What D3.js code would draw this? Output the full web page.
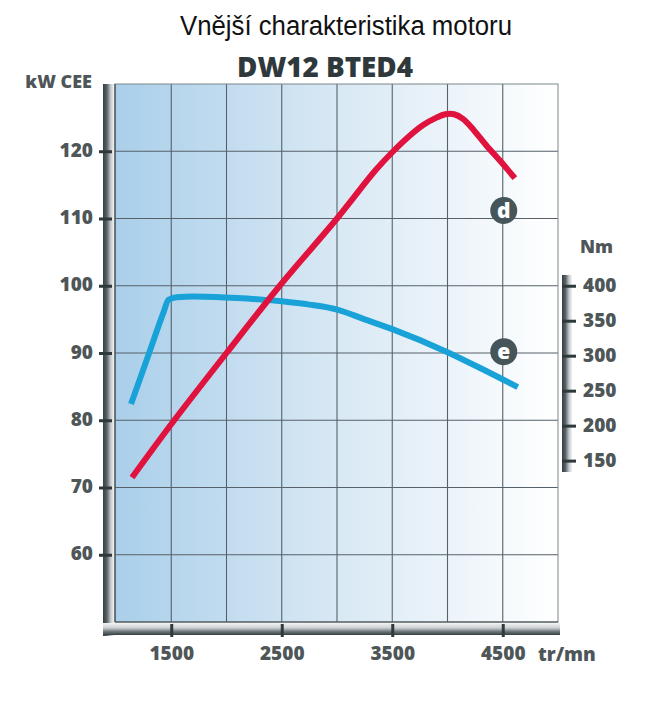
<!DOCTYPE html>
<html>
<head>
<meta charset="utf-8">
<script src="https://cdn.jsdelivr.net/npm/d3@7"></script>
<style>
  html, body { margin: 0; padding: 0; background: #ffffff; }
  svg { display: block; }
</style>
</head>
<body>
<svg id="chart" width="662" height="712"></svg>
<script>
// ---- data ----
const title = "Vnější charakteristika motoru";
const subtitle = "DW12 BTED4";
const xTicks = [1500, 2500, 3500, 4500];
const xGrid = [1500, 2000, 2500, 3000, 3500, 4000, 4500];
const kwTicks = [60, 70, 80, 90, 100, 110, 120];
const nmTicks = [150, 200, 250, 300, 350, 400];
// power curve (rpm, kW)
const powerRpm = [1145, 1527, 2000, 2482, 3000, 3350, 3509, 3650, 3780, 3900, 3980, 4060, 4140, 4240, 4350, 4480, 4610];
const powerKw  = [71.5, 80, 90, 100, 110, 117.2, 120, 122.2, 123.9, 125.0, 125.5, 125.5, 124.8, 123.1, 120.9, 118.5, 116.0];
// torque curve (rpm, Nm)
const torqueRpm = [1136, 1300, 1430, 1475, 1550, 1700, 1900, 2100, 2500, 2750, 3000, 3250, 3500, 4000, 4300, 4636];
const torqueNm  = [231, 304, 362, 380, 383.5, 384.5, 384, 382.5, 377.7, 373, 366, 352, 338, 305, 282, 255];
const markerLabels = ["d", "e"];
const markerRpm = [4500, 4500];
const markerKw = [111.2, 90.2];

// ---- layout ----
const svg = d3.select("#chart");
const plot = { left: 115, right: 558, top: 84, bottom: 622 };
const x = d3.scaleLinear().domain([1000, 5000]).range([plot.left + 1, plot.right]);
const y = d3.scaleLinear().domain([50, 130]).range([plot.bottom, plot.top]);
const yNm = d3.scaleLinear().domain([150, 400]).range([y(74), y(100)]);

const axisColor = "#4e5658";
const fontAxis = "'Open Sans', 'DejaVu Sans', sans-serif";

const defs = svg.append("defs");
const bg = defs.append("linearGradient").attr("id", "bg").attr("x1", "0").attr("x2", "1").attr("y1", "0").attr("y2", "0");
bg.append("stop").attr("offset", "0%").attr("stop-color", "#aacfea");
bg.append("stop").attr("offset", "45%").attr("stop-color", "#d4e6f3");
bg.append("stop").attr("offset", "100%").attr("stop-color", "#ffffff");

const barV = defs.append("linearGradient").attr("id", "barV").attr("x1", "0").attr("x2", "1").attr("y1", "0").attr("y2", "0");
barV.append("stop").attr("offset", "0%").attr("stop-color", "#353e42");
barV.append("stop").attr("offset", "35%").attr("stop-color", "#596266");
barV.append("stop").attr("offset", "70%").attr("stop-color", "#c3c8ca");
barV.append("stop").attr("offset", "100%").attr("stop-color", "#f3f4f4");

const barH = defs.append("linearGradient").attr("id", "barH").attr("x1", "0").attr("x2", "0").attr("y1", "0").attr("y2", "1");
barH.append("stop").attr("offset", "0%").attr("stop-color", "#f3f4f4");
barH.append("stop").attr("offset", "40%").attr("stop-color", "#cdd1d3");
barH.append("stop").attr("offset", "72%").attr("stop-color", "#6b7477");
barH.append("stop").attr("offset", "100%").attr("stop-color", "#353e42");

// ---- titles ----
svg.append("text")
  .attr("x", 346).attr("y", 35)
  .attr("text-anchor", "middle")
  .attr("font-family", "'Liberation Sans Narrow', 'Liberation Sans', Arial, sans-serif")
  .attr("font-size", 27)
  .attr("textLength", 332).attr("lengthAdjust", "spacingAndGlyphs")
  .attr("fill", "#111")
  .text(title);

svg.append("text")
  .attr("x", 325).attr("y", 77)
  .attr("text-anchor", "middle")
  .attr("font-family", fontAxis)
  .attr("font-weight", 800)
  .attr("font-size", 28)
  .attr("textLength", 176).attr("lengthAdjust", "spacingAndGlyphs")
  .attr("fill", "#2f383b")
  .text(subtitle);

// ---- frame bars ----
svg.append("rect").attr("x", 103).attr("y", plot.top).attr("width", 11).attr("height", 636 - plot.top).attr("fill", "url(#barV)");
svg.append("rect").attr("x", 103).attr("y", plot.bottom + 1).attr("width", plot.right + 2 - 103).attr("height", 12).attr("fill", "url(#barH)");
svg.append("path").attr("d", `M103,${plot.bottom + 1} L114,${plot.bottom + 1} L114,${plot.bottom + 13} L103,${plot.bottom + 13} Z`).attr("fill", "url(#barH)");

// ---- plot background ----
svg.append("rect")
  .attr("x", plot.left).attr("y", plot.top)
  .attr("width", plot.right - plot.left).attr("height", plot.bottom - plot.top)
  .attr("fill", "url(#bg)");

// grid
const grid = svg.append("g").attr("stroke", "#56616a").attr("stroke-width", 1.1);
grid.selectAll("line.v").data(xGrid).join("line")
  .attr("x1", d => x(d)).attr("x2", d => x(d))
  .attr("y1", plot.top).attr("y2", plot.bottom);
grid.selectAll("line.h").data(kwTicks).join("line")
  .attr("x1", plot.left).attr("x2", plot.right)
  .attr("y1", d => y(d)).attr("y2", d => y(d));

// border
svg.append("rect")
  .attr("x", plot.left).attr("y", plot.top)
  .attr("width", plot.right - plot.left).attr("height", plot.bottom - plot.top)
  .attr("fill", "none").attr("stroke", "#7d868b").attr("stroke-width", 1);
svg.append("line").attr("x1", plot.left).attr("x2", plot.left).attr("y1", plot.top).attr("y2", plot.bottom)
  .attr("stroke", "#3d4649").attr("stroke-width", 1.2);
svg.append("line").attr("x1", plot.left).attr("x2", plot.right).attr("y1", plot.bottom).attr("y2", plot.bottom)
  .attr("stroke", "#3d4649").attr("stroke-width", 1.2);

// ---- curves ----
const powerData = powerRpm.map((r, i) => [r, powerKw[i]]);
const torqueData = torqueRpm.map((r, i) => [r, torqueNm[i]]);

svg.append("path")
  .datum(torqueData)
  .attr("fill", "none").attr("stroke", "#18a2d8").attr("stroke-width", 6)
  .attr("stroke-linejoin", "round")
  .attr("d", d3.line().x(d => x(d[0])).y(d => yNm(d[1])).curve(d3.curveMonotoneX));

svg.append("path")
  .datum(powerData)
  .attr("fill", "none").attr("stroke", "#e0123e").attr("stroke-width", 6)
  .attr("stroke-linejoin", "round")
  .attr("d", d3.line().x(d => x(d[0])).y(d => y(d[1])).curve(d3.curveCatmullRom.alpha(0.5)));

// markers
const mk = svg.append("g");
markerLabels.forEach((lab, i) => {
  const g = mk.append("g").attr("transform", `translate(${x(markerRpm[i]) + 1},${y(markerKw[i])})`);
  g.append("circle").attr("r", 13.5).attr("fill", "#46555a");
  g.append("text").attr("text-anchor", "middle").attr("dy", "0.36em")
    .attr("font-family", fontAxis).attr("font-weight", 800).attr("font-size", 21)
    .attr("fill", "#ffffff").text(lab);
});

// ---- axes ----
function styleAxis(g) {
  g.select(".domain").remove();
  g.selectAll(".tick line").attr("stroke", "#2f383b").attr("stroke-width", 3);
  g.selectAll(".tick text")
    .attr("font-family", fontAxis).attr("font-weight", 800).attr("font-size", 19)
    .attr("fill", axisColor);
}

// left kW axis
svg.append("g")
  .attr("transform", `translate(112,0)`)
  .call(d3.axisLeft(y).tickValues(kwTicks).tickSize(13).tickPadding(6).tickFormat(d3.format("d")))
  .call(styleAxis)
  .call(g => g.selectAll(".tick text").attr("dy", "0.27em"));

// bottom rpm axis
svg.append("g")
  .attr("transform", `translate(0,${plot.bottom + 2})`)
  .call(d3.axisBottom(x).tickValues(xTicks).tickSize(13).tickPadding(10).tickFormat(d3.format("d")))
  .call(styleAxis)
  .call(g => g.selectAll(".tick text").attr("dy", "0.71em"));

// right Nm axis bar and ticks
svg.append("rect").attr("x", 562).attr("y", 275).attr("width", 10).attr("height", 197).attr("fill", "url(#barV)");
svg.append("g")
  .attr("transform", `translate(562,0)`)
  .call(d3.axisRight(yNm).tickValues(nmTicks).tickSize(14).tickPadding(7).tickFormat(d3.format("d")))
  .call(styleAxis)
  .call(g => g.selectAll(".tick text").attr("dy", "0.3em"));

// axis titles
svg.append("text").attr("x", 92).attr("y", 88).attr("text-anchor", "end")
  .attr("font-family", fontAxis).attr("font-weight", 800).attr("font-size", 18)
  .attr("fill", axisColor).text("kW CEE");
svg.append("text").attr("x", 580).attr("y", 253)
  .attr("font-family", fontAxis).attr("font-weight", 800).attr("font-size", 18)
  .attr("fill", axisColor).text("Nm");
svg.append("text").attr("x", 538).attr("y", 661)
  .attr("font-family", fontAxis).attr("font-weight", 800).attr("font-size", 19)
  .attr("fill", axisColor).text("tr/mn");
</script>
</body>
</html>
